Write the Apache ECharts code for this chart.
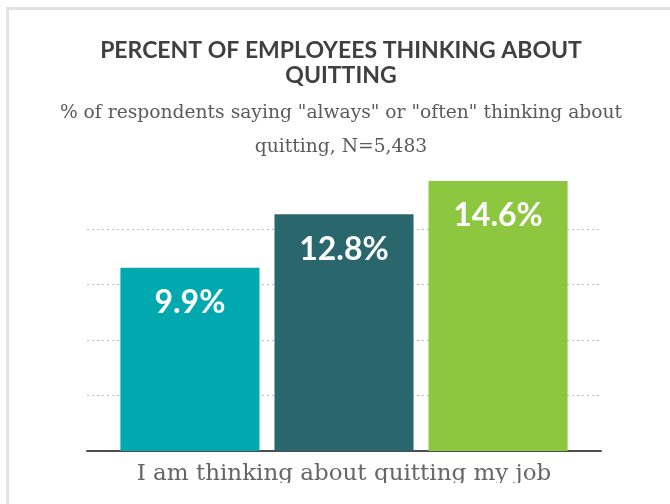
<!DOCTYPE html>
<html>
<head>
<meta charset="utf-8">
<script src="https://cdn.jsdelivr.net/npm/echarts@6/dist/echarts.min.js"></script>
<style>
  html, body { margin: 0; padding: 0; background: #fff; width: 670px; height: 504px; overflow: hidden; }
  #frame { position: absolute; left: 6px; top: 7px; width: 700px; height: 600px;
           border-left: 3px solid #e2e2e2; border-top: 3px solid #e2e2e2; }
  #chart { position: absolute; left: 0; top: 0; width: 670px; height: 483px; }
</style>
</head>
<body>
<div id="frame"></div>
<div id="chart"></div>
<script>
// Share of respondents who "always" or "often" think about quitting
const categories = ['I am thinking about quitting my job'];
const groupNames = ['Group A', 'Group B', 'Group C'];
const groupValues = [9.9, 12.8, 14.6];
const groupColors = ['#00a9b0', '#29676d', '#8dc73f'];

const chart = echarts.init(document.getElementById('chart'), null, { renderer: 'canvas' });

const series = groupNames.map((name, i) => ({
  name: name,
  type: 'bar',
  data: [groupValues[i]],
  barGap: '10.8%',
  barCategoryGap: '13%',
  itemStyle: { color: groupColors[i] },
  label: {
    show: true,
    position: 'insideTop',
    distance: 19,
    formatter: p => p.value.toFixed(1) + '%',
    color: '#ffffff',
    fontFamily: 'Lato',
    fontWeight: 'bold',
    fontSize: 32
  }
}));

chart.setOption({
  animation: false,
  title: [
    {
      text: 'PERCENT OF EMPLOYEES THINKING ABOUT\nQUITTING',
      left: 336,
      top: 33,
      textAlign: 'center',
      textStyle: { fontFamily: 'Lato', fontWeight: 'bold', fontSize: 23, lineHeight: 25, color: '#404040' }
    },
    {
      text: '% of respondents saying "always" or "often" thinking about\nquitting, N=5,483',
      left: 336,
      top: 91,
      textAlign: 'center',
      textStyle: { fontFamily: 'DejaVu Serif', fontWeight: 'normal', fontSize: 18.7, lineHeight: 34, color: '#5a5a5a' }
    }
  ],
  grid: { left: 87, right: 69, top: 173.5, bottom: 32, containLabel: false, outerBoundsMode: 'none' },
  xAxis: {
    type: 'category',
    data: categories,
    axisLine: { lineStyle: { color: '#4d4d4d', width: 2 } },
    axisTick: { show: false },
    axisLabel: { margin: 12, fontFamily: 'DejaVu Serif', fontSize: 23, color: '#666666' }
  },
  yAxis: {
    type: 'value',
    min: 0,
    max: 15,
    interval: 3,
    axisLabel: { show: false },
    axisLine: { show: false },
    axisTick: { show: false },
    splitLine: {
      show: true,
      showMaxLine: false,
      lineStyle: { color: '#bdbdbd', type: [2, 3], width: 1 }
    }
  },
  series: series
});
</script>
</body>
</html>
